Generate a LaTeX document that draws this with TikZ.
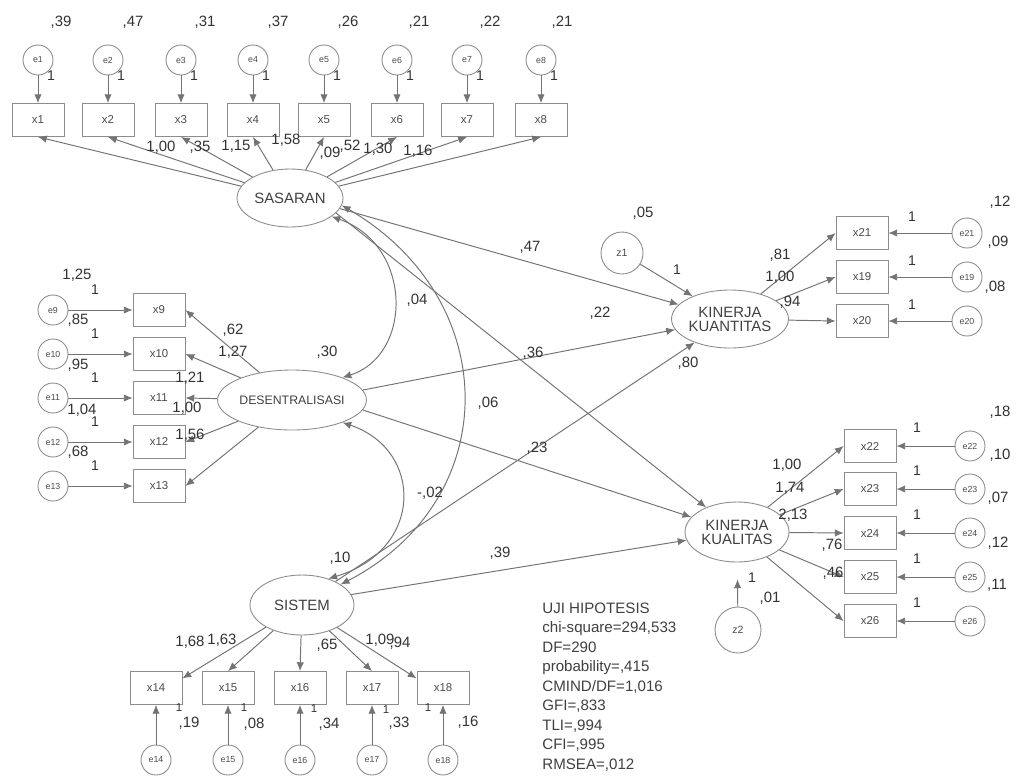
\documentclass[tikz,border=0pt]{standalone}
\usepackage{fontspec}
\setmainfont{Liberation Sans}
\usetikzlibrary{shapes.geometric,arrows.meta}
\tikzset{
  ln/.style={draw=black!55, line width=0.55pt},
  arr/.style={ln, -{Latex[length=5pt,width=4.2pt]}},
  darr/.style={ln, {Latex[length=5pt,width=4.2pt]}-{Latex[length=5pt,width=4.2pt]}},
  obs/.style={draw=black!45, line width=0.5pt, rectangle, minimum width=1.04cm, minimum height=0.66cm, inner sep=0pt, font=\fontsize{6.5}{7}\selectfont, text=black!70},
  err/.style={draw=black!45, line width=0.5pt, circle, minimum size=0.6cm, inner sep=0pt, font=\fontsize{5}{6}\selectfont, text=black!70},
  lat/.style={draw=black!45, line width=0.5pt, ellipse, inner sep=0pt, font=\fontsize{8.5}{10}\selectfont, text=black!75, align=center},
  num/.style={font=\fontsize{8.5}{10}\selectfont, text=black!80, inner sep=0pt},
  one/.style={font=\fontsize{8}{9}\selectfont, text=black!80, inner sep=0pt},
  sone/.style={font=\fontsize{6.5}{7}\selectfont, text=black!80, inner sep=0pt},
  stat/.style={font=\fontsize{8.6}{10}\selectfont, text=black!75, inner sep=0pt, anchor=base west},
}
\begin{document}
\begin{tikzpicture}[x=0.02cm,y=-0.02cm]
\useasboundingbox (0,0) rectangle (1018,779);
\fill[white] (0,0) rectangle (1018,779);

% latent variables
\node[lat, minimum width=2.12cm, minimum height=1.16cm] (SAS) at (290,198) {SASARAN};
\node[lat, minimum width=2.2cm, minimum height=1.2cm, font=\fontsize{7}{8}\selectfont] (DES) at (292,400) {DESENTRALISASI};
\node[lat, minimum width=2.08cm, minimum height=1.2cm] (SIS) at (302,605) {SISTEM};
\node[lat, minimum width=2.12cm, minimum height=1.16cm] (KK) at (730,319) {KINERJA\\[-2pt]KUANTITAS};
\node[lat, minimum width=2.08cm, minimum height=1.2cm] (KQ) at (737,532) {KINERJA\\[-2pt]KUALITAS};
\node[err, minimum size=0.84cm, font=\fontsize{6}{7}\selectfont] (z1) at (622,253) {z1};
\node[err, minimum size=0.92cm, font=\fontsize{6}{7}\selectfont] (z2) at (738,630) {z2};

% SASARAN indicators
\foreach \i/\x in {1/38,2/108,3/181,4/253,5/324,6/397,7/467,8/541} {
  \node[err] (e\i) at (\x,60) {e\i};
  \node[obs] (x\i) at (\x,120) {x\i};
  \draw[arr] (e\i) -- (x\i);
  \node[one] (o\i) at (\x+13,76) {1};
  \draw[arr] (SAS) -- (x\i.south);
}
\node[num] (v1) at (61,22) {,39};
\node[num] (v2) at (133,22) {,47};
\node[num] (v3) at (205,22) {,31};
\node[num] (v4) at (278,22) {,37};
\node[num] (v5) at (348,22) {,26};
\node[num] (v6) at (419,22) {,21};
\node[num] (v7) at (490,22) {,22};
\node[num] (v8) at (562,22) {,21};
\node[num] (l1) at (161,147) {1,00};
\node[num] (l2) at (200,147) {,35};
\node[num] (l3) at (236,146) {1,15};
\node[num] (l4) at (286,140) {1,58};
\node[num] (l5) at (330,153) {,09};
\node[num] (l6) at (350,146) {,52};
\node[num] (l7) at (378,149) {1,30};
\node[num] (l8) at (418,151) {1,16};

% DESENTRALISASI indicators
\foreach \i/\y in {9/310,10/354,11/398,12/442,13/486} {
  \node[err] (e\i) at (53,\y) {e\i};
  \node[obs] (x\i) at (159,\y) {x\i};
  \draw[arr] (e\i) -- (x\i);
  \node[one] (o\i) at (95,\y-20) {1};
  \draw[arr] (DES) -- (x\i.east);
}
\node[num] (v9) at (77,275) {1,25};
\node[num] (v10) at (78,320) {,85};
\node[num] (v11) at (78,365) {,95};
\node[num] (v12) at (82,410) {1,04};
\node[num] (v13) at (78,452) {,68};
\node[num] (l9) at (233,330) {,62};
\node[num] (l10) at (233,352) {1,27};
\node[num] (l11) at (190,378) {1,21};
\node[num] (l12) at (187,408) {1,00};
\node[num] (l13) at (190,435) {1,56};
\node[num] (vD) at (327,352) {,30};

% SISTEM indicators
\foreach \i/\x in {14/156,15/228,16/300,17/372,18/443} {
  \node[err] (e\i) at (\x,760) {e\i};
  \node[obs] (x\i) at (\x,688) {x\i};
  \draw[arr] (e\i) -- (x\i);
}
\draw[arr] (SIS) -- (x14.20);
\draw[arr] (SIS) -- (x15.north);
\draw[arr] (SIS) -- (x16.north);
\draw[arr] (SIS) -- (x17.north);
\draw[arr] (SIS) -- (x18.160);
\node[sone] (o14) at (179,708) {1};
\node[sone] (o15) at (244,708) {1};
\node[sone] (o16) at (314,709) {1};
\node[sone] (o17) at (386,710) {1};
\node[sone] (o18) at (428,708) {1};
\node[num] (v14) at (189,723) {,19};
\node[num] (v15) at (254,724) {,08};
\node[num] (v16) at (329,724) {,34};
\node[num] (v17) at (399,723) {,33};
\node[num] (v18) at (468,722) {,16};
\node[num] (l14) at (190,642) {1,68};
\node[num] (l15) at (222,640) {1,63};
\node[num] (l16) at (327,645) {,65};
\node[num] (l17) at (380,640) {1,09};
\node[num] (l18) at (400,643) {,94};
\node[num] (vS) at (340,558) {,10};

% KINERJA KUANTITAS indicators
\foreach \i/\y in {21/233,19/277,20/321} {
  \node[obs] (x\i) at (862,\y) {x\i};
  \node[err] (e\i) at (967,\y) {e\i};
  \draw[arr] (e\i) -- (x\i);
  \draw[arr] (KK) -- (x\i.west);
  \node[one] (o\i) at (912,\y-16) {1};
}
\node[num] (v21) at (1000,202) {,12};
\node[num] (v19) at (998,242) {,09};
\node[num] (v20) at (995,287) {,08};
\node[num] (l21) at (780,255) {,81};
\node[num] (l19) at (780,277) {1,00};
\node[num] (l20) at (790,302) {,94};

% KINERJA KUALITAS indicators
\foreach \i/\y in {22/446,23/489,24/533,25/577,26/621} {
  \node[obs] (x\i) at (870,\y) {x\i};
  \node[err] (e\i) at (970,\y) {e\i};
  \draw[arr] (e\i) -- (x\i);
  \draw[arr] (KQ) -- (x\i.west);
  \node[one] (o\i) at (917,\y-18) {1};
}
\node[num] (v22) at (1000,412) {,18};
\node[num] (v23) at (1000,455) {,10};
\node[num] (v24) at (998,498) {,07};
\node[num] (v25) at (998,543) {,12};
\node[num] (v26) at (997,585) {,11};
\node[num] (l22) at (787,465) {1,00};
\node[num] (l23) at (790,488) {1,74};
\node[num] (l24) at (793,515) {2,13};
\node[num] (l25) at (832,545) {,76};
\node[num] (l26) at (833,573) {,46};

% structural paths
\draw[arr] (SAS.-12) -- (KK);
\draw[arr] (SAS.-18) -- (KQ);
\draw[arr] (DES.8) -- (KK);
\draw[arr] (DES.-8) -- (KQ);
\draw[arr] (SIS.35) -- (KK);
\draw[arr] (SIS.12) -- (KQ);
\draw[arr] (z1) -- (KK);
\draw[arr, shorten >=0.34cm] (z2) -- (KQ);

% covariances
\draw[darr] (SAS.-24) .. controls (413,245) and (413,355) .. (DES.24);
\draw[darr] (SAS.-8) .. controls (504,300) and (504,500) .. (SIS.28);
\draw[darr] (DES.-24) .. controls (424,450) and (424,550) .. (SIS.45);

% path labels
\node[num] (p1) at (530,247) {,47};
\node[num] (p2) at (600,313) {,22};
\node[num] (p3) at (533,353) {,36};
\node[num] (p4) at (688,363) {,80};
\node[num] (p5) at (417,300) {,04};
\node[num] (p6) at (488,403) {,06};
\node[num] (p7) at (430,493) {-,02};
\node[num] (p8) at (537,448) {,23};
\node[num] (p9) at (500,553) {,39};
\node[num] (vz1) at (643,213) {,05};
\node[one] (oz1) at (677,270) {1};
\node[one] (oz2) at (752,578) {1};
\node[num] (vz2) at (770,598) {,01};

% fit statistics
\node[stat] (s1) at (542,613) {UJI HIPOTESIS};
\node[stat] (s2) at (542,632) {chi-square=294,533};
\node[stat] (s3) at (542,652) {DF=290};
\node[stat] (s4) at (542,671) {probability=,415};
\node[stat] (s5) at (542,691) {CMIND/DF=1,016};
\node[stat] (s6) at (542,710) {GFI=,833};
\node[stat] (s7) at (542,730) {TLI=,994};
\node[stat] (s8) at (542,749) {CFI=,995};
\node[stat] (s9) at (542,769) {RMSEA=,012};
\end{tikzpicture}
\end{document}
